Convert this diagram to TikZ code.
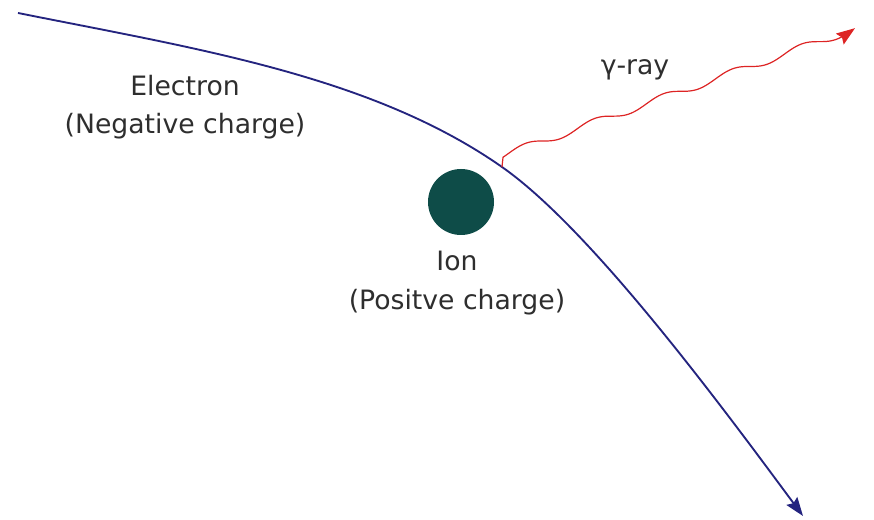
\documentclass[tikz,border=0pt]{standalone}
\usepackage{fontspec}
\setmainfont{DejaVu Sans}
\usetikzlibrary{arrows.meta}
\definecolor{navyblue}{HTML}{24247F}
\definecolor{rayred}{HTML}{DD2424}
\definecolor{ionteal}{HTML}{0E4C48}
\definecolor{dkgray}{HTML}{2E2E2E}

\begin{document}
\begin{tikzpicture}[x=0.75pt, y=-0.75pt,
  lbl/.style={text=dkgray, font=\fontsize{20}{28.5}\selectfont,
    align=center, anchor=base, inner sep=0pt}]

% Canvas: 874 x 520 px, y grows downward
\useasboundingbox (0,0) rectangle (874,520);

% Key points of the electron path
\coordinate (estart) at (18,13);
\coordinate (emit) at (502,167);
\coordinate (eend) at (803,516);

% Ion
\node[circle, fill=ionteal, minimum size=49.5pt, inner sep=0pt] (ion) at (461,202) {};

% Electron path, bent by the ion
\draw[navyblue, line width=1.4pt, -{Stealth[length=14pt, width=10pt, inset=2pt]}]
  (estart) .. controls (198,49) and (372,76) .. (emit)
  .. controls (592,230) and (723,408) .. (eend);

% gamma-ray: staircase wave, flat every 69 px
% y = 141 - 0.36 u + 3.95 sin(5.2174 u), u = x - 543
\draw[rayred, line width=0.9pt, -{Stealth[length=14pt, width=10pt, inset=2pt]}]
  (emit) -- plot[domain=-40:312, samples=150, smooth]
  ({543+\x}, {141-0.36*\x+3.95*sin(5.2174*\x)});

% Labels (base = baseline of the last line)
\node[lbl] (electron) at (185,134) {Electron\\(Negative charge)};
\node[lbl] (ionlbl) at (457,309) {Ion\\(Positve charge)};
\node[lbl] (gamma) at (635,75) {γ-ray};

\end{tikzpicture}
\end{document}
